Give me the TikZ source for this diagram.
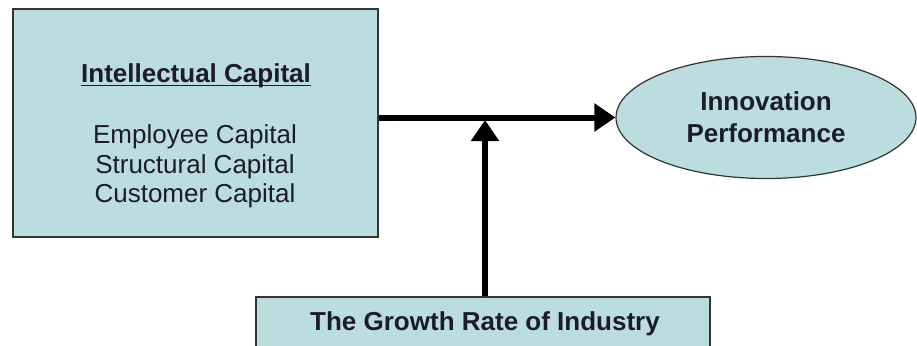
\documentclass[tikz,border=0pt]{standalone}
\usepackage{fontspec}
\setmainfont{Liberation Sans}
\usetikzlibrary{arrows.meta,shapes.geometric}
\definecolor{boxfill}{RGB}{187,221,224}
\definecolor{inkc}{RGB}{28,28,40}
% underline set close to the baseline
\newsavebox{\headbox}
\newcommand{\headline}[1]{\sbox{\headbox}{#1}\rlap{\rule[-4.4pt]{\wd\headbox}{1.4pt}}\usebox{\headbox}}
\begin{document}
\begin{tikzpicture}[x=1pt,y=-1pt,
  every node/.style={text=inkc},
  txt/.style={font=\fontsize{26}{30}\selectfont, anchor=base, inner sep=0},
  panel/.style={draw=black!80, line width=1.2pt, fill=boxfill, inner sep=0},
  flow/.style={line width=6pt, -{Triangle[length=21pt,width=27pt]}}
]
\useasboundingbox (0,0) rectangle (917,345);
\clip (0,0) rectangle (917,345);

% intellectual capital box and its lines of text
\node[panel, minimum width=365pt, minimum height=228pt] (ic) at (195.5,123) {};
\node[txt] (ichead) at (196,82) {\headline{\textbf{Intellectual Capital}}};
\node[txt] (ic1) at (195,143) {Employee Capital};
\node[txt] (ic2) at (195,173) {Structural Capital};
\node[txt] (ic3) at (195,202) {Customer Capital};

% outcome ellipse
\node[panel, ellipse, minimum width=300pt, minimum height=122pt,
      font=\fontsize{26}{32}\selectfont\bfseries, align=center] (ip) at (766,117.5)
  {Innovation\\Performance};

% moderator box, running past the lower edge
\node[panel, minimum width=454pt, minimum height=56pt] (gr) at (483,325) {};
\node[txt, font=\fontsize{26}{30}\selectfont\bfseries] (grtext) at (485,330) {The Growth Rate of Industry};

% connectors
\coordinate (hit) at (485,120);
\draw[flow] (ic.east |- ip.west) -- (ip.west);
\draw[flow] (gr.north -| hit) -- (hit);
\end{tikzpicture}
\end{document}
